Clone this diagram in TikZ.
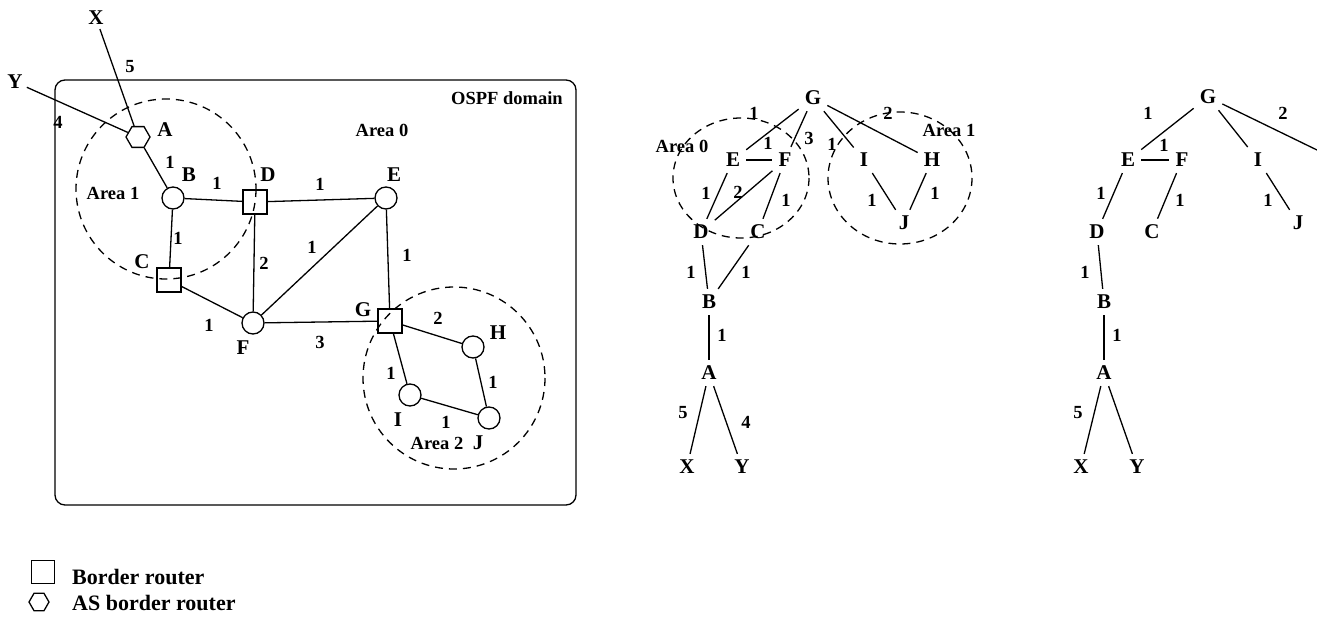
\documentclass[tikz,border=0pt]{standalone}
\usepackage{fontspec}
\setmainfont{Liberation Serif}
\usetikzlibrary{shapes.geometric}
\begin{document}
\begin{tikzpicture}[x=1pt,y=-1pt,
  every node/.style={font=\fontsize{18.5}{22}\selectfont\bfseries},
  lbl/.style={inner sep=0pt},
  let/.style={inner sep=0pt, font=\fontsize{21}{24}\selectfont\bfseries},
  rtr/.style={draw, circle, minimum size=22pt, inner sep=0pt, line width=1.3pt},
  brd/.style={draw, rectangle, minimum size=24pt, inner sep=0pt, line width=1.3pt},
  asb/.style={draw, regular polygon, regular polygon sides=6, minimum size=24pt, inner sep=0pt, line width=1.3pt},
  link/.style={line width=1.3pt},
  area/.style={dash pattern=on 8pt off 6pt, line width=1.3pt},
  tn/.style={inner sep=6pt, font=\fontsize{21}{24}\selectfont\bfseries},
  legend/.style={font=\fontsize{22}{26}\selectfont\bfseries, anchor=west, inner sep=0pt},
]
\useasboundingbox (0,0) rectangle (1317,623);

% ---------------- left: OSPF domain ----------------
\draw[link, rounded corners=10pt] (55,80) rectangle (576,505);
\node[lbl] at (507,98) {OSPF domain};
\node[lbl] at (382,130) {Area 0};
\node[lbl] at (113,193) {Area 1};
\node[lbl] at (437,443) {Area 2};

\node[tn, inner sep=4pt] (X) at (96,18) {X};
\node[tn, inner sep=4pt] (Y) at (15,82) {Y};
\node[asb] (A) at (138,137) {};
\node[rtr] (B) at (173,198) {};
\node[brd] (C) at (169,280) {};
\node[brd] (D) at (255,202) {};
\node[rtr] (E) at (386,198) {};
\node[rtr] (F) at (253,323) {};
\node[brd] (G) at (390,321) {};
\node[rtr] (H) at (473,347) {};
\node[rtr] (I) at (410,395) {};
\node[rtr] (J) at (489,418) {};

\node[let] at (165,130) {A};
\node[let] at (189,175) {B};
\node[let] at (142,262) {C};
\node[let] at (268,175) {D};
\node[let] at (394,175) {E};
\node[let] at (243,348) {F};
\node[let] at (363,310) {G};
\node[let] at (498,333) {H};
\node[let] at (398,420) {I};
\node[let] at (478,443) {J};

\draw[link] (X) -- (A);
\draw[link] (Y) -- (A);
\draw[link] (A) -- (B);
\draw[link] (B) -- (D);
\draw[link] (D) -- (E);
\draw[link] (B) -- (C);
\draw[link] (C) -- (F);
\draw[link] (D) -- (F);
\draw[link] (F) -- (E);
\draw[link] (E) -- (G);
\draw[link] (F) -- (G);
\draw[link] (G) -- (H);
\draw[link] (G) -- (I);
\draw[link] (I) -- (J);
\draw[link] (H) -- (J);

\node[lbl] at (130,67) {5};
\node[lbl] at (58,122) {4};
\node[lbl] at (170,162) {1};
\node[lbl] at (217,183) {1};
\node[lbl] at (320,184) {1};
\node[lbl] at (178,238) {1};
\node[lbl] at (264,263) {2};
\node[lbl] at (312,247) {1};
\node[lbl] at (407,255) {1};
\node[lbl] at (209,325) {1};
\node[lbl] at (320,342) {3};
\node[lbl] at (438,318) {2};
\node[lbl] at (391,373) {1};
\node[lbl] at (493,382) {1};
\node[lbl] at (446,422) {1};

\draw[area] (166,189) circle[radius=90];
\draw[area] (454,378) circle[radius=91];

% ---------------- middle tree ----------------
\node[tn] (mG) at (813,98) {G};
\node[tn] (mE) at (733,160) {E};
\node[tn] (mF) at (785,160) {F};
\node[tn] (mI) at (864,160) {I};
\node[tn] (mH) at (932,160) {H};
\node[tn] (mD) at (701,232) {D};
\node[tn] (mC) at (758,232) {C};
\node[tn] (mJ) at (904,223) {J};
\node[tn] (mB) at (709,302) {B};
\node[tn] (mA) at (709,373) {A};
\node[tn] (mX) at (687,467) {X};
\node[tn] (mY) at (742,467) {Y};

\draw[link] (mG) -- (mE);
\draw[link] (mG) -- (mF);
\draw[link] (mG) -- (mI);
\draw[link] (mG) -- (mH);
\draw[link] (mE) -- (mF);
\draw[link] (mE) -- (mD);
\draw[link] (mF) -- (mD);
\draw[link] (mF) -- (mC);
\draw[link] (mI) -- (mJ);
\draw[link] (mH) -- (mJ);
\draw[link] (mD) -- (mB);
\draw[link] (mC) -- (mB);
\draw[link] (mB) -- (mA);
\draw[link] (mA) -- (mX);
\draw[link] (mA) -- (mY);

\node[lbl] at (754,113) {1};
\node[lbl] at (809,138) {3};
\node[lbl] at (768,143) {1};
\node[lbl] at (832,144) {1};
\node[lbl] at (888,113) {2};
\node[lbl] at (706,193) {1};
\node[lbl] at (738,192) {2};
\node[lbl] at (786,200) {1};
\node[lbl] at (872,200) {1};
\node[lbl] at (935,193) {1};
\node[lbl] at (691,272) {1};
\node[lbl] at (746,272) {1};
\node[lbl] at (722,335) {1};
\node[lbl] at (683,413) {5};
\node[lbl] at (746,422) {4};
\node[lbl] at (682,146) {Area 0};
\node[lbl] at (949,130) {Area 1};

\draw[area] (741,178) ellipse[x radius=68, y radius=60];
\draw[area] (900,178) ellipse[x radius=72, y radius=66];

% ---------------- right tree ----------------
\node[tn] (rG) at (1208,97) {G};
\node[tn] (rE) at (1128,160) {E};
\node[tn] (rF) at (1182,160) {F};
\node[tn] (rI) at (1258,160) {I};
\node[tn] (rD) at (1097,232) {D};
\node[tn] (rC) at (1152,232) {C};
\node[tn] (rJ) at (1298,223) {J};
\node[tn] (rB) at (1104,302) {B};
\node[tn] (rA) at (1104,373) {A};
\node[tn] (rX) at (1081,467) {X};
\node[tn] (rY) at (1137,467) {Y};
\coordinate (rH) at (1317,150);

\draw[link] (rG) -- (rE);
\draw[link] (rG) -- (rI);
\draw[link] (rG) -- (rH);
\draw[link] (rE) -- (rF);
\draw[link] (rE) -- (rD);
\draw[link] (rF) -- (rC);
\draw[link] (rI) -- (rJ);
\draw[link] (rD) -- (rB);
\draw[link] (rB) -- (rA);
\draw[link] (rA) -- (rX);
\draw[link] (rA) -- (rY);

\node[lbl] at (1148,113) {1};
\node[lbl] at (1283,113) {2};
\node[lbl] at (1164,145) {1};
\node[lbl] at (1101,193) {1};
\node[lbl] at (1180,200) {1};
\node[lbl] at (1268,200) {1};
\node[lbl] at (1085,272) {1};
\node[lbl] at (1117,335) {1};
\node[lbl] at (1078,413) {5};

% ---------------- legend ----------------
\node[brd, minimum size=23pt] (lsq) at (43,572) {};
\node[legend] (lsqt) at (72,577) {Border router};
\node[asb, minimum size=20pt] (lhx) at (39,602) {};
\node[legend] (lhxt) at (72,603) {AS border router};
\end{tikzpicture}
\end{document}
